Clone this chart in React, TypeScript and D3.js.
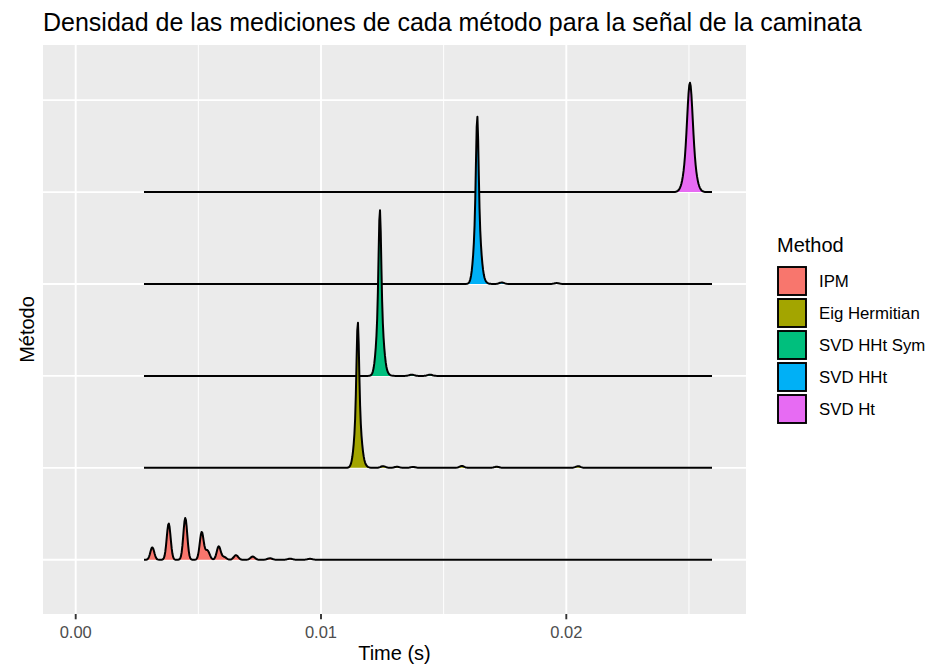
import React from "react";
import * as d3 from "d3";

// Methods, in bottom-to-top ridge order
const methods = ["IPM", "Eig Hermitian", "SVD HHt Sym", "SVD HHt", "SVD Ht"];
const methodColors = ["#F8766D", "#A3A500", "#00BF7D", "#00B0F6", "#E76BF3"];

// Density components per method: [time (s), height (in ridge rows), spread (s)]
const ipmPeaks: [number, number, number][] = [
  [0.003123, 0.135, 0.00008],
  [0.003791, 0.395, 0.00008],
  [0.004468, 0.455, 0.00008],
  [0.005137, 0.3, 0.00008],
  [0.00537, 0.1, 0.00009],
  [0.00583, 0.145, 0.00008],
  [0.00605, 0.03, 0.00009],
  [0.006535, 0.05, 0.00009],
  [0.007216, 0.035, 0.00009],
  [0.00792, 0.016, 0.0001],
  [0.00874, 0.012, 0.0001],
  [0.00955, 0.01, 0.0001],
];
const eigPeaks: [number, number, number][] = [
  [0.0115, 0.9, 0.00005],
  [0.0115, 0.65, 0.00012],
  [0.01162, 0.05, 0.00016],
  [0.01253, 0.018, 0.0001],
  [0.0131, 0.012, 0.0001],
  [0.01375, 0.01, 0.0001],
  [0.01574, 0.02, 0.0001],
  [0.01716, 0.012, 0.0001],
  [0.02048, 0.018, 0.0001],
];
const symPeaks: [number, number, number][] = [
  [0.0124, 0.98, 0.00005],
  [0.0124, 0.79, 0.00012],
  [0.01252, 0.05, 0.00016],
  [0.0137, 0.014, 0.0001],
  [0.01444, 0.014, 0.0001],
];
const hhtPeaks: [number, number, number][] = [
  [0.01637, 0.98, 0.00005],
  [0.01637, 0.81, 0.00012],
  [0.0165, 0.05, 0.00016],
  [0.01737, 0.016, 0.0001],
  [0.01961, 0.01, 0.0001],
];
const htPeaks: [number, number, number][] = [
  [0.02504, 0.6, 0.0001],
  [0.02504, 0.59, 0.00018],
];
const methodPeaks = [ipmPeaks, eigPeaks, symPeaks, hhtPeaks, htPeaks];

// Time range covered by every ridge
const timeStart = 0.002784;
const timeEnd = 0.02594;

const xTicks = [0, 0.01, 0.02];
const xMinor = [0.005, 0.015, 0.025];
const yGridRows = [1, 2, 3, 4, 5, 6];

const W = 930;
const H = 667;
const panel = { left: 43, right: 746, top: 45, bottom: 614 };
const FONT = "'Liberation Sans', Arial, Helvetica, sans-serif";

export default function App() {
  const x = d3
    .scaleLinear()
    .domain([0, 0.01])
    .range([75.7, 75.7 + 245.3]);
  const y = d3.scaleLinear().domain([0.41, 6.6]).range([panel.bottom, panel.top]);

  const grid = d3.range(0, 800).map((i) => timeStart + ((timeEnd - timeStart) * i) / 799);

  const ridges = methods.map((m, k) => {
    const peaks = methodPeaks[k];
    const row = k + 1;
    const pts = grid.map((t) => {
      let dens = 0;
      for (const [c, h, s] of peaks) dens += h * Math.exp(-0.5 * ((t - c) / s) ** 2);
      return [t, dens] as [number, number];
    });
    const area = d3
      .area<[number, number]>()
      .x((d) => x(d[0]))
      .y0(y(row))
      .y1((d) => y(row + d[1]));
    const line = d3
      .line<[number, number]>()
      .x((d) => x(d[0]))
      .y((d) => y(row + d[1]));
    return { m, color: methodColors[k], area: area(pts)!, line: line(pts)! };
  });

  // Top ridges first so lower ridges overlap them
  const drawOrder = ridges.slice().reverse();

  const legendX = 777;
  const legendTop = 266;
  const keySize = 30;
  const keyStep = 32;

  return (
    <svg
      width={W}
      height={H}
      style={{ position: "absolute", left: 0, top: 0, background: "#fff" }}
      fontFamily={FONT}
    >
      <rect x={0} y={0} width={W} height={H} fill="#fff" />
      <text x={panel.left} y={31} fontSize={25} fill="#000">
        Densidad de las mediciones de cada método para la señal de la caminata
      </text>

      <rect
        x={panel.left}
        y={panel.top}
        width={panel.right - panel.left}
        height={panel.bottom - panel.top}
        fill="#EBEBEB"
      />
      {xMinor.map((t) => (
        <line key={"mn" + t} x1={x(t)} x2={x(t)} y1={panel.top} y2={panel.bottom} stroke="#fff" strokeWidth={1} />
      ))}
      {xTicks.map((t) => (
        <line key={"mj" + t} x1={x(t)} x2={x(t)} y1={panel.top} y2={panel.bottom} stroke="#fff" strokeWidth={1.9} />
      ))}
      {yGridRows.map((r) => (
        <line key={"yr" + r} x1={panel.left} x2={panel.right} y1={y(r)} y2={y(r)} stroke="#fff" strokeWidth={1.9} />
      ))}

      <defs>
        <clipPath id="panelClip">
          <rect x={panel.left} y={panel.top} width={panel.right - panel.left} height={panel.bottom - panel.top} />
        </clipPath>
      </defs>
      <g clipPath="url(#panelClip)">
        {drawOrder.map((r) => (
          <g key={r.m}>
            <path d={r.area} fill={r.color} />
            <path d={r.line} fill="none" stroke="#000" strokeWidth={2} strokeLinejoin="round" />
          </g>
        ))}
      </g>

      {xTicks.map((t) => (
        <g key={"xt" + t}>
          <line x1={x(t)} x2={x(t)} y1={panel.bottom} y2={panel.bottom + 5.3} stroke="#333" strokeWidth={1.9} />
          <text x={x(t)} y={638} textAnchor="middle" fontSize={16.5} fill="#4D4D4D">
            {d3.format(".2f")(t)}
          </text>
        </g>
      ))}
      <text x={(panel.left + panel.right) / 2} y={660} textAnchor="middle" fontSize={20} fill="#000">
        Time (s)
      </text>
      <text
        transform={`translate(${34},${(panel.top + panel.bottom) / 2}) rotate(-90)`}
        textAnchor="middle"
        fontSize={20}
        fill="#000"
      >
        Método
      </text>

      <text x={legendX} y={252} fontSize={20} fill="#000">
        Method
      </text>
      {methods.map((m, k) => {
        const ky = legendTop + k * keyStep;
        return (
          <g key={"lg" + m}>
            <rect x={legendX} y={ky} width={keySize} height={keySize} fill="#F2F2F2" />
            <rect
              x={legendX + 1}
              y={ky + 1}
              width={keySize - 2}
              height={keySize - 2}
              fill={methodColors[k]}
              stroke="#000"
              strokeWidth={1.9}
            />
            <text x={819} y={ky + keySize / 2} dominantBaseline="central" fontSize={16.8} fill="#000">
              {m}
            </text>
          </g>
        );
      })}
    </svg>
  );
}
